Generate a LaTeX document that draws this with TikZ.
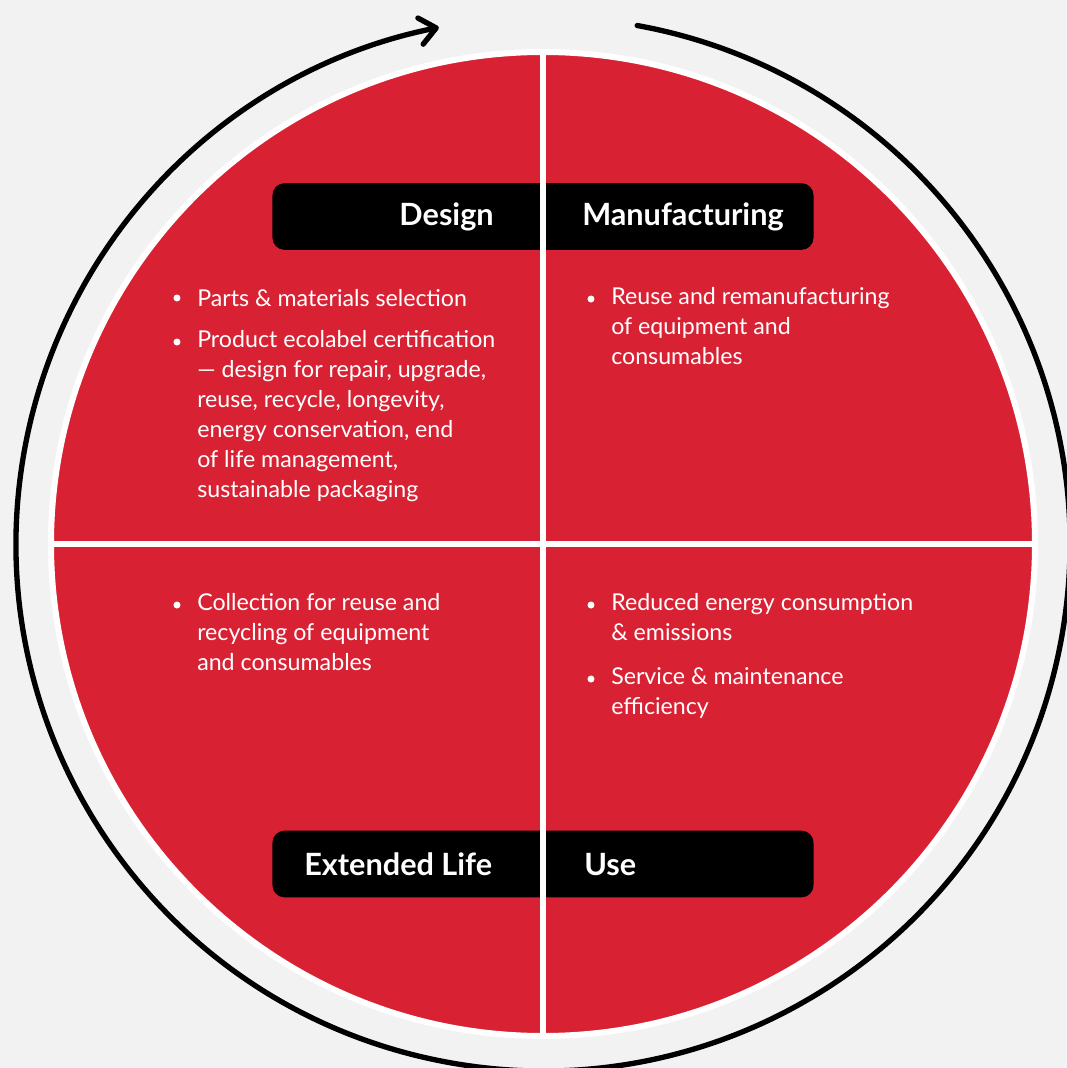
\documentclass[tikz,border=0pt]{standalone}
\usepackage{fontspec}
\setmainfont{Lato}
\usetikzlibrary{arrows.meta,calc,positioning}
\definecolor{bgcol}{HTML}{F1F2F1}
\definecolor{cyclered}{HTML}{D82234}
\tikzset{
  bodytext/.style={text=white,font=\fontsize{17.4}{22.5}\selectfont,align=left,inner sep=0pt,anchor=north west,
    execute at begin node={\rule{0pt}{15pt}}},
  titletext/.style={text=white,font=\fontsize{23}{27}\selectfont\bfseries,inner sep=0pt},
  titlebar/.style={fill=black,rounded corners=9pt,minimum width=405.75pt,minimum height=50pt},
  dot/.style={circle,fill=white,inner sep=0pt,minimum size=5.25pt},
  divider/.style={white,line width=4.5pt},
}
\begin{document}
\begin{tikzpicture}[x=0.75pt,y=0.75pt]
        \fill[bgcol] (-543,544) rectangle (524,-524);
        \useasboundingbox (-543,544) rectangle (524,-524);
        % the cycle arrow
        \coordinate (arcstart) at (79.7:527);
        \draw[line width=4pt,line cap=round,-{Straight Barb[length=12pt,width=20pt,round]}]
          (arcstart) arc[start angle=79.7,end angle=-258.6,radius=527];
        % the disc and its quarters
        \node[circle,draw=white,line width=4.5pt,fill=cyclered,minimum size=738pt] (disc) at (0,0) {};
        \draw[divider] (disc.west) -- (disc.east);
        \node[titlebar] (topbar) at (0,327.5) {};
        \node[titlebar] (botbar) at (0,-320) {};
        \draw[divider] (disc.north) -- (disc.south);
        \node[titletext,anchor=base east] (design) at (-49,318) {Design};
        \node[titletext,anchor=base west] (manuf) at (39,318) {Manufacturing};
        \node[titletext,anchor=base west] (extlife) at (-239,-331) {Extended Life};
        \node[titletext,anchor=base west] (use) at (41,-331) {Use};
        % bullet texts (north west = first baseline + 20)
        \node[bodytext] (tl1) at (-346,258) {Parts \& materials selection};
        \node[bodytext] (tl2) at (-346,214) {Product ecolabel certification\\— design for repair, upgrade,\\reuse, recycle, longevity,\\energy conservation, end\\of life management,\\sustainable packaging};
        \node[bodytext] (tr1) at (68,257) {Reuse and remanufacturing\\of equipment and\\consumables};
        \node[bodytext] (bl1) at (-346,-49) {Collection for reuse and\\recycling of equipment\\and consumables};
        \node[bodytext] (br1) at (68,-49) {Reduced energy consumption\\\& emissions};
        \node[bodytext] (br2) at (68,-123) {Service \& maintenance\\efficiency};
        \foreach \n in {tl1,tl2,tr1,bl1,br1,br2}
          \node[dot] (\n-dot) at ($(\n.north west)+(-20,-12)$) {};
        \end{tikzpicture}
\end{document}
